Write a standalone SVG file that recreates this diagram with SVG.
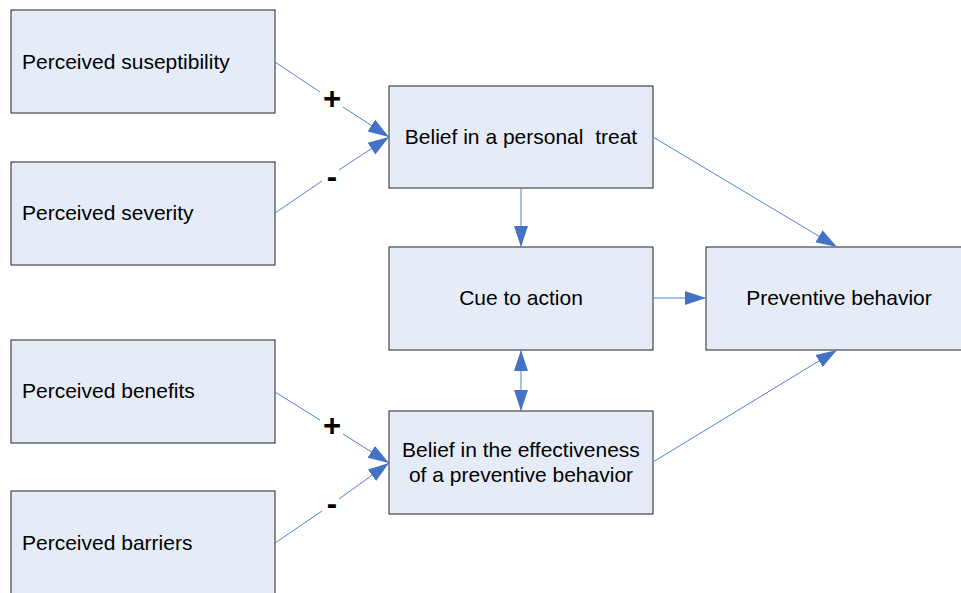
<svg xmlns="http://www.w3.org/2000/svg" width="961" height="593" viewBox="0 0 961 593">
<style>
.box{fill:#E6ECF7;stroke:#222;stroke-width:1}
.t{font-family:"Liberation Sans",Arial,sans-serif;font-size:21px;fill:#000;white-space:pre}
.c{text-anchor:middle}
.sign{font-family:"Liberation Sans",Arial,sans-serif;font-size:31px;font-weight:bold;fill:#000;text-anchor:middle}
.ln{stroke:#4F81D0;stroke-width:1;fill:none}
</style>
<defs>
<marker id="ah" markerUnits="userSpaceOnUse" markerWidth="22" markerHeight="16" refX="21" refY="7" orient="auto-start-reverse" viewBox="0 0 22 14">
<path d="M0,0 L21,7 L0,14 Z" fill="#4472C4"/>
</marker>
</defs>
<rect width="961" height="593" fill="#fff"/>
<g id="n-susceptibility"><rect class="box" x="11" y="10" width="264" height="103"/><text class="t" x="22" y="69">Perceived suseptibility</text></g>
<g id="n-severity"><rect class="box" x="11" y="162" width="264" height="103"/><text class="t" x="22" y="220">Perceived severity</text></g>
<g id="n-benefits"><rect class="box" x="11" y="340" width="264" height="103"/><text class="t" x="22" y="398">Perceived benefits</text></g>
<g id="n-barriers"><rect class="box" x="11" y="491" width="264" height="104"/><text class="t" x="22" y="550">Perceived barriers</text></g>
<g id="n-threat"><rect class="box" x="389" y="86" width="264" height="102"/><text class="t c" x="521" y="144" xml:space="preserve">Belief in a personal  treat</text></g>
<g id="n-cue"><rect class="box" x="389" y="247" width="264" height="103"/><text class="t c" x="521" y="305">Cue to action</text></g>
<g id="n-effectiveness"><rect class="box" x="389" y="411" width="264" height="103"/><text class="t c" x="521" y="457">Belief in the effectiveness</text><text class="t c" x="521" y="482">of a preventive behavior</text></g>
<g id="n-preventive"><rect class="box" x="706" y="247" width="262" height="103"/><text class="t c" x="839" y="305">Preventive behavior</text></g>
<g id="connectors">
<path class="ln" d="M275,62 L320,92"/>
<path class="ln" d="M343,107 L389,137" marker-end="url(#ah)"/>
<path class="ln" d="M275,213 L322,181"/>
<path class="ln" d="M339,170 L389,137" marker-end="url(#ah)"/>
<path class="ln" d="M275,392 L320,420"/>
<path class="ln" d="M343,434 L389,463" marker-end="url(#ah)"/>
<path class="ln" d="M275,543 L322,511"/>
<path class="ln" d="M339,499 L389,463" marker-end="url(#ah)"/>
<path class="ln" d="M653,137 L837,247" marker-end="url(#ah)"/>
<path class="ln" d="M653,462 L837,350" marker-end="url(#ah)"/>
<path class="ln" d="M521,188 L521,247" marker-end="url(#ah)"/>
<path class="ln" d="M653,298 L706,298" marker-end="url(#ah)"/>
<path class="ln" d="M521,350 L521,411" marker-start="url(#ah)" marker-end="url(#ah)"/>
<text class="sign" x="332" y="109">+</text>
<text class="sign" x="332" y="187">-</text>
<text class="sign" x="332" y="436">+</text>
<text class="sign" x="332" y="514">-</text>
</g>
</svg>
